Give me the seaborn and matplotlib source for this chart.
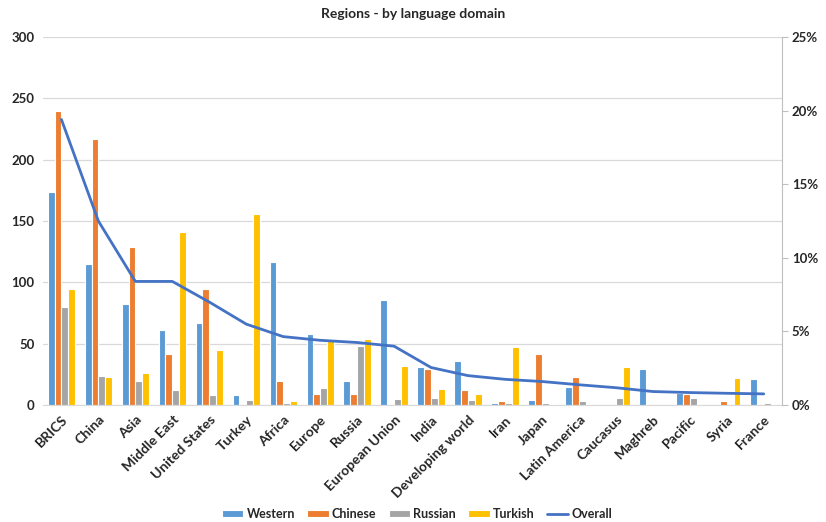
import numpy as np
import pandas as pd
import seaborn as sns
import matplotlib.pyplot as plt
from matplotlib.ticker import PercentFormatter

# Regions and article counts per language domain
regions = ["BRICS", "China", "Asia", "Middle East", "United States", "Turkey", "Africa",
           "Europe", "Russia", "European Union", "India", "Developing world", "Iran",
           "Japan", "Latin America", "Caucasus", "Maghreb", "Pacific", "Syria", "France"]
western = [174, 115, 82, 61, 67, 8, 117, 58, 20, 86, 31, 36, 2, 4, 15, 0, 29, 10, 0, 21]
chinese = [240, 217, 129, 42, 95, 0, 20, 9, 9, 0, 29, 12, 3, 42, 23, 0, 0, 9, 3, 0]
russian = [80, 24, 20, 12, 8, 4, 2, 14, 48, 5, 6, 4, 2, 2, 3, 6, 0, 6, 0, 2]
turkish = [95, 23, 26, 141, 45, 156, 3, 52, 54, 32, 13, 9, 47, 1, 1, 31, 0, 1, 22, 1]
# Overall share (%)
overall = [19.4, 12.5, 8.4, 8.4, 7.0, 5.5, 4.65, 4.4, 4.25, 4.0, 2.55, 2.0, 1.75,
           1.6, 1.38, 1.18, 0.92, 0.85, 0.8, 0.76]

domains = ["Western", "Chinese", "Russian", "Turkish"]
colors = {"Western": "#5B9BD5", "Chinese": "#ED7D31", "Russian": "#A5A5A5", "Turkish": "#FFC000"}

df = pd.DataFrame({"Region": regions, "Western": western, "Chinese": chinese,
                   "Russian": russian, "Turkish": turkish})
long = df.melt(id_vars="Region", var_name="Domain", value_name="Count")

sns.set_style("white")
plt.rcParams["font.family"] = ["Lato", "DejaVu Sans"]

fig = plt.figure(figsize=(8.26, 5.22), dpi=100)
ax = fig.add_axes([0.052, 0.224, 0.895, 0.705])

sns.barplot(data=long, x="Region", y="Count", hue="Domain", hue_order=domains,
            palette=colors, width=0.74, edgecolor="white", linewidth=0.8,
            saturation=1, ax=ax)
bar_handles, bar_labels = ax.get_legend_handles_labels()
ax.get_legend().remove()

ax.set_ylim(0, 300)
ax.set_yticks(range(0, 301, 50))
ax.set_xlim(-0.5, len(regions) - 0.5)
ax.yaxis.grid(True, color="#D9D9D9", linewidth=0.9)
ax.set_axisbelow(True)
ax.set_xlabel("")
ax.set_ylabel("")
for s in ["top", "left", "right"]:
    ax.spines[s].set_visible(False)
ax.spines["bottom"].set_color("#D9D9D9")
ax.tick_params(axis="y", length=0, labelsize=9.5, pad=6)
ax.tick_params(axis="x", length=0, labelsize=10, pad=6)
for lbl in ax.get_yticklabels():
    lbl.set_fontweight("bold")
plt.setp(ax.get_xticklabels(), rotation=45, ha="right", rotation_mode="anchor",
         fontweight="bold")

ax2 = ax.twinx()
sns.lineplot(x=np.arange(len(regions)), y=overall, color="#4472C4", linewidth=2,
             ax=ax2, label="Overall", legend=False)
ax2.set_ylim(0, 25)
ax2.set_yticks(range(0, 26, 5))
ax2.yaxis.set_major_formatter(PercentFormatter(decimals=0))
for s in ["top", "left", "bottom"]:
    ax2.spines[s].set_visible(False)
ax2.spines["right"].set_color("#BFBFBF")
ax2.tick_params(axis="y", length=4, color="#BFBFBF", labelsize=9.5, pad=3)
for lbl in ax2.get_yticklabels():
    lbl.set_fontweight("bold")
line_handles, line_labels = ax2.get_legend_handles_labels()

fig.legend(bar_handles + line_handles, bar_labels + line_labels, loc="lower center",
           bbox_to_anchor=(0.505, -0.018), ncol=5, frameon=False, handlelength=1.7,
           handleheight=0.45, columnspacing=1.0, handletextpad=0.25,
           prop={"weight": "bold", "size": 9})

fig.suptitle("Regions - by language domain", fontsize=10, fontweight="bold", y=0.985)

fig.savefig("out.png", dpi=100)
